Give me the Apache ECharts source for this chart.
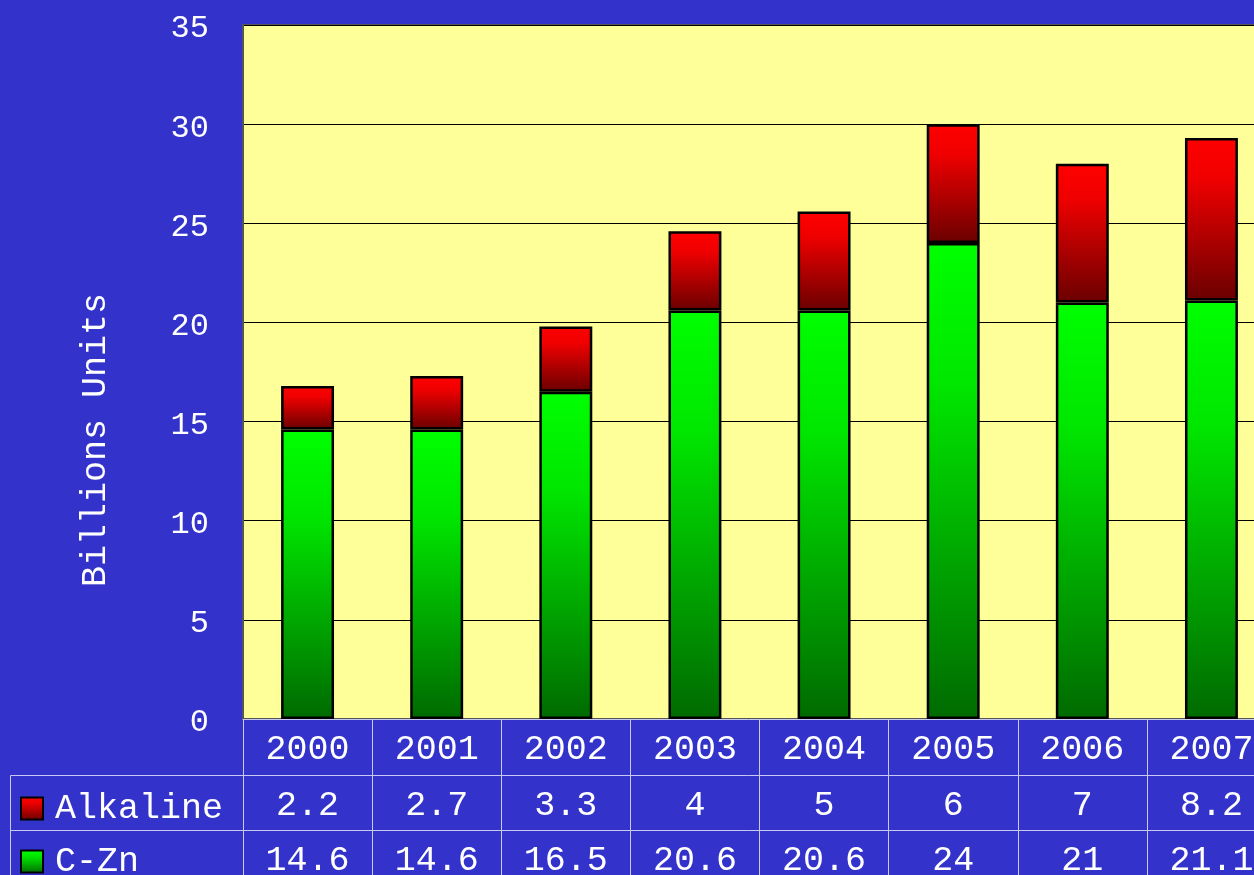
<!DOCTYPE html>
<html>
<head>
<meta charset="utf-8">
<script src="https://cdn.jsdelivr.net/npm/echarts@6/dist/echarts.min.js"></script>
<style>
html,body{margin:0;padding:0;background:#3333cc;}
#main{width:1254px;height:875px;}
</style>
</head>
<body>
<div id="main"></div>
<script>
// 数据
var years = ['2000','2001','2002','2003','2004','2005','2006','2007'];
var alkaline = [2.2, 2.7, 3.3, 4, 5, 6, 7, 8.2];
var czn = [14.6, 14.6, 16.5, 20.6, 20.6, 24, 21, 21.1];
var yTicks = [0, 5, 10, 15, 20, 25, 30, 35];

var FONT = '"Liberation Mono", "DejaVu Sans Mono", monospace';
var tableLine = '#c8c8f0';

var myChart = echarts.init(document.getElementById('main'));

function tableAxis(labels, offset, tickLen){
	return {
		type: 'category',
		data: labels,
		position: 'bottom',
		offset: offset,
		gridIndex: 0,
		axisLine: {show: true, lineStyle: {color: tableLine, width: 1}},
		axisTick: {show: true, alignWithLabel: false, length: tickLen, lineStyle: {color: tableLine, width: 1}},
		axisLabel: {color: '#fff', fontFamily: FONT, fontSize: 35, margin: 13, interval: 0},
		splitLine: {show: false}
	};
}

var greenGrad = new echarts.graphic.LinearGradient(0, 0, 0, 1, [
	{offset: 0, color: '#00ff00'},
	{offset: 0.3, color: '#00e600'},
	{offset: 1, color: '#006a00'}
]);
var redGrad = new echarts.graphic.LinearGradient(0, 0, 0, 1, [
	{offset: 0, color: '#ff0000'},
	{offset: 0.25, color: '#f00000'},
	{offset: 1, color: '#6a0000'}
]);

//图例文字的样式
var legendText = {color: '#fff', fontFamily: FONT, fontSize: 35, lineHeight: 35, padding: [0, 0, 0, 7]};

var option = {
	backgroundColor: '#3333cc',
	animation: false,
	grid: {
		left: 243,
		top: 25,
		width: 1033,
		bottom: 156,
		outerBoundsMode: 'none',
		containLabel: false,
		show: true,
		backgroundColor: '#ffff99',
		borderColor: '#555',
		borderWidth: 2
	},
	legend: [
		{
			left: 15,
			top: 786,
			icon: 'rect',
			itemWidth: 22,
			itemHeight: 22,
			data: ['Alkaline'],
			textStyle: legendText,
			itemStyle: {borderColor: '#000', borderWidth: 2}
		},
		{
			left: 15,
			top: 839,
			icon: 'rect',
			itemWidth: 22,
			itemHeight: 22,
			data: ['C-Zn'],
			textStyle: legendText,
			itemStyle: {borderColor: '#000', borderWidth: 2}
		}
	],
	xAxis: [
		tableAxis(years, 0, 56),
		tableAxis(alkaline.map(String), 56, 55),
		tableAxis(czn.map(String), 111, 70)
	],
	yAxis: {
		type: 'value',
		min: yTicks[0],
		max: yTicks[yTicks.length - 1],
		interval: 5,
		name: 'Billions Units',
		nameLocation: 'middle',
		nameGap: 130,
		nameTextStyle: {color: '#fff', fontFamily: FONT, fontSize: 35, padding: [0, 136, 0, 0]},
		axisLine: {show: true, lineStyle: {color: '#555', width: 2}},
		axisTick: {show: false},
		axisLabel: {color: '#fff', fontFamily: FONT, fontSize: 32, margin: 34, verticalAlign: 'top', lineHeight: 8},
		splitLine: {show: true, lineStyle: {color: '#000', width: 1}}
	},
	series: [
		{
			name: 'C-Zn',
			type: 'bar',
			stack: 'total',
			xAxisIndex: 0,
			barWidth: '41%',
			data: czn,
			itemStyle: {color: greenGrad, borderColor: '#000', borderWidth: 2.5}
		},
		{
			name: 'Alkaline',
			type: 'bar',
			stack: 'total',
			xAxisIndex: 0,
			barWidth: '41%',
			data: alkaline,
			itemStyle: {color: redGrad, borderColor: '#000', borderWidth: 2.5}
		}
	],
	graphic: [
		{
			type: 'polyline',
			shape: {points: [[10.5, 875], [10.5, 775.5], [243, 775.5]]},
			style: {stroke: tableLine, lineWidth: 1, fill: null}
		},
		{
			type: 'line',
			shape: {x1: 10.5, y1: 830.5, x2: 243, y2: 830.5},
			style: {stroke: tableLine, lineWidth: 1}
		}
	]
};

myChart.setOption(option);
</script>
</body>
</html>
